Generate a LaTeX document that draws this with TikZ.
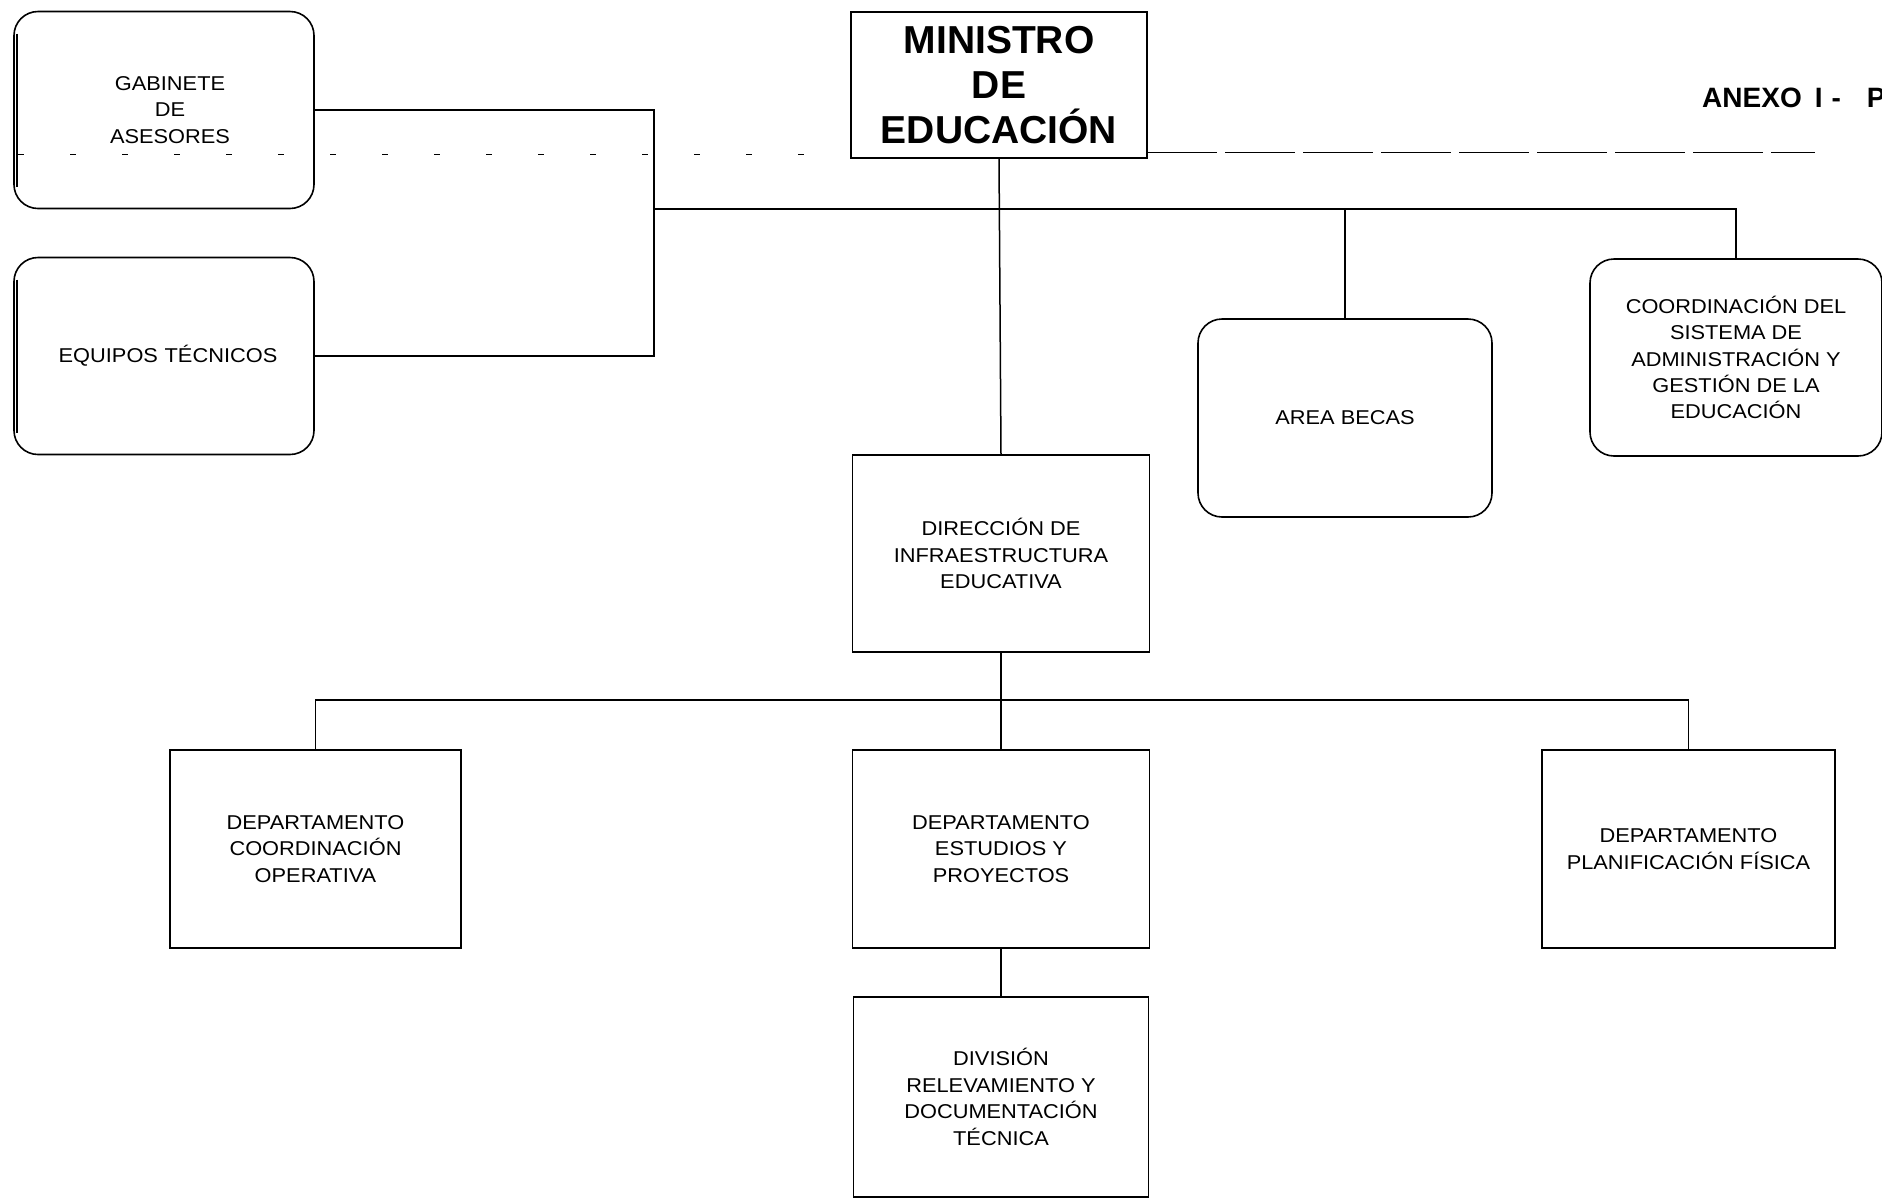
\documentclass[tikz,border=0pt]{standalone}
\usepackage{fontspec}
\setmainfont{Liberation Sans}
\newfontfamily\unitfont{Liberation Sans}[FakeStretch=1.09]
\begin{document}
\begin{tikzpicture}[x=1pt,y=-1pt,
  unit/.style={draw, line width=1.6pt, inner sep=0pt, outer sep=0pt, align=center,
    font=\unitfont\fontsize{20}{26.4}\selectfont},
  roundunit/.style={unit, rounded corners=24pt},
  link/.style={line width=1.5pt},
  faint/.style={line width=1pt}]
\useasboundingbox (0,0) rectangle (1882,1203);

% top level
\node[unit, minimum width=296pt, minimum height=146pt,
      font=\bfseries\fontsize{39}{45}\selectfont] (min) at (999,85) {MINISTRO\\DE\\EDUCACIÓN};
\node[anchor=west, inner sep=0pt, font=\bfseries\fontsize{28}{30}\selectfont] (anexo) at (1702,98)
  {ANEXO\hspace{13pt}I\hspace{9pt}-\hspace{26pt}P};

% staff units (rounded)
\node[roundunit, minimum width=300pt, minimum height=197pt, text width=300pt] (gab) at (164,110)
  {\hspace*{12pt}GABINETE\\\hspace*{12pt}DE\\\hspace*{12pt}ASESORES};
\node[roundunit, minimum width=300pt, minimum height=197pt, text width=300pt] (equ) at (164,356)
  {\hspace*{8pt}EQUIPOS TÉCNICOS};
\node[roundunit, minimum width=294pt, minimum height=198pt] (becas) at (1345,418) {AREA BECAS};
\node[roundunit, minimum width=292pt, minimum height=197pt] (coord) at (1736,357.5)
  {COORDINACIÓN DEL\\SISTEMA DE\\ADMINISTRACIÓN Y\\GESTIÓN DE LA\\EDUCACIÓN};

% line units
\node[unit, minimum width=297pt, minimum height=197pt] (dir) at (1001,553.5) {DIRECCIÓN DE\\INFRAESTRUCTURA\\EDUCATIVA};
\node[unit, minimum width=291pt, minimum height=198pt] (dco) at (315.5,849) {DEPARTAMENTO\\COORDINACIÓN\\OPERATIVA};
\node[unit, minimum width=297pt, minimum height=198pt] (des) at (1001,849) {DEPARTAMENTO\\ESTUDIOS Y\\PROYECTOS};
\node[unit, minimum width=293pt, minimum height=198pt] (dpf) at (1688.5,849) {DEPARTAMENTO\\PLANIFICACIÓN FÍSICA};
\node[unit, minimum width=295pt, minimum height=200pt] (div) at (1001,1097) {DIVISIÓN\\RELEVAMIENTO Y\\DOCUMENTACIÓN\\TÉCNICA};

% doubled left edges of the staff boxes
\draw[line width=2.5pt] ([xshift=3pt,yshift=-22pt]gab.north west) -- ([xshift=3pt,yshift=22pt]gab.south west);
\draw[line width=2.5pt] ([xshift=3pt,yshift=-22pt]equ.north west) -- ([xshift=3pt,yshift=22pt]equ.south west);

% connectors
\coordinate (jl) at (654,209);
\coordinate (jr) at (coord.north |- jl);
\draw[link] (gab.east) -| (jl);
\draw[link] (equ.east) -| (jl);
\draw[link] (jl) -- (jr) -- (coord.north);
\draw[link] (becas.north |- jl) -- (becas.north);
\draw[link] (min.south) -- (dir.north);

\coordinate (dbar) at (1001,700);
\draw[link] (dir.south) -- (des.north);
\draw[link] (dco.north) |- (dbar) -| (dpf.north);
\draw[link] (des.south) -- (div.north);

% rule lines of the header
\coordinate (hl) at (18,154);
\coordinate (hm) at (840,154);
\coordinate (hr) at (1815,152);
\draw[line width=0.8pt, dash pattern=on 6pt off 46pt] (hl) -- (hm);
\draw[faint, dash pattern=on 70pt off 8pt] ([yshift=6pt]min.south east) -- (hr);
\end{tikzpicture}
\end{document}
